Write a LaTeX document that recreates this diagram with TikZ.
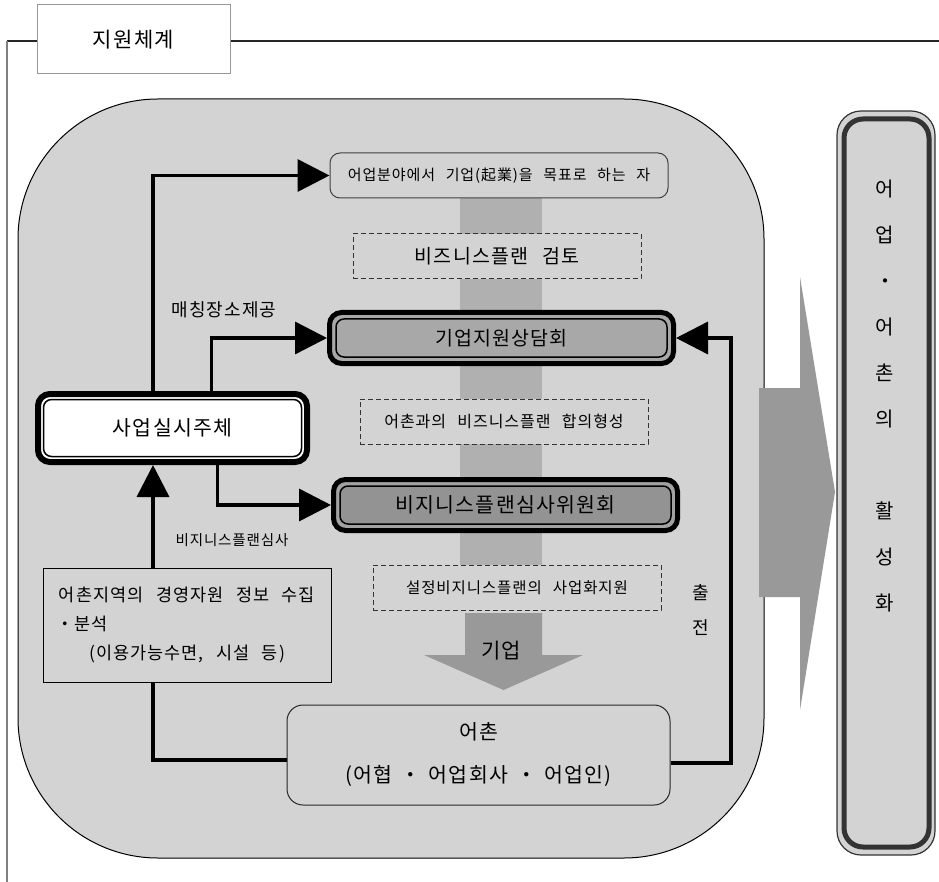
\documentclass[tikz,border=0pt]{standalone}
\usepackage{fontspec}
\setmainfont{Noto Sans CJK KR}[LetterSpace=6,WordSpace=2.5]
\usetikzlibrary{arrows.meta}
\definecolor{bg}{HTML}{D3D3D3}
\definecolor{band}{HTML}{B0B0B0}
\definecolor{arr}{HTML}{999999}
\definecolor{consfill}{HTML}{A8A8A8}
\definecolor{revring}{HTML}{A2A2A2}
\definecolor{revfill}{HTML}{939393}
\begin{document}
\begin{tikzpicture}[x=1pt,y=-1pt,
  conn/.style={line width=3.5pt, -{Triangle[length=32pt,width=32pt]}},
  tbox/.style={draw=black!75, line width=1pt, fill=bg, rounded corners=10pt,
    minimum width=338pt, minimum height=45pt, inner sep=0pt, font=\fontsize{15}{18}\selectfont},
  dbox/.style={draw=black!80, dash pattern=on 5pt off 3pt, line width=1pt, fill=bg,
    minimum width=288pt, minimum height=45pt, inner sep=0pt},
  heavybox/.style={draw=black, line width=5pt, rounded corners=12pt,
    minimum width=344pt, minimum height=51pt, inner sep=0pt},
  lbl/.style={inner sep=0pt},
]
\useasboundingbox (0,0) rectangle (939,882);

% frame and title
\node[draw=black!40, line width=1pt, fill=white, minimum width=193pt, minimum height=69pt,
  inner sep=0pt, font=\fontsize{21}{25}\selectfont] (title) at (133.5,39.5) {지원체계};
\coordinate (fcorner) at (7,41);
\coordinate (fbottom) at (7,882);
\coordinate (fright) at (939,41);
\draw[black!85, line width=1.5pt] (title.west |- fcorner) -- (fcorner);
\draw[black!85, line width=1.5pt] (title.east |- fright) -- (fright);
\draw[black!50, line width=2pt] (fcorner) -- (fbottom);

% big gray panel
\draw[fill=bg, line width=1pt, rounded corners=140pt] (18,99) rectangle (764,858);

% vertical band
\fill[band] (460,198) rectangle (542,566);

% big right arrow
\fill[arr] (759,388) -- (800,388) -- (800,277) -- (835,492) -- (800,710) -- (800,597) -- (759,597) -- cycle;

% right goal box
\node[draw=black!80, line width=1.2pt, fill=bg, rounded corners=24pt,
  minimum width=98pt, minimum height=744pt, inner sep=0pt,
  path picture={\draw[line width=5pt, rounded corners=19pt]
    ([shift={(7pt,-8pt)}]path picture bounding box.north west) rectangle
    ([shift={(-6pt,8pt)}]path picture bounding box.south east);}] (goal) at (886,483) {};
\node[lbl, align=center, font=\fontsize{20}{46}\selectfont] (goaltxt) at (885,396)
  {어\\업\\・\\어\\촌\\의\\[46pt]활\\성\\화};

% central column
\node[tbox] (top) at (499,175.5) {어업분야에서 기업(起業)을 목표로 하는 자};
\node[dbox, font=\fontsize{19.5}{24}\selectfont] (d1) at (497,256.5) {비즈니스플랜 검토};
\node[heavybox, fill=consfill, font=\fontsize{19.5}{24}\selectfont,
  path picture={\draw[line width=1.5pt, rounded corners=8pt]
    ([shift={(6.5pt,-6.5pt)}]path picture bounding box.north west) rectangle
    ([shift={(-6.5pt,6.5pt)}]path picture bounding box.south east);}] (cons) at (501.5,338) {기업지원상담회};
\node[dbox, font=\fontsize{16}{20}\selectfont] (d2) at (504,421.5) {어촌과의 비즈니스플랜 합의형성};
\node[heavybox, fill=revring, font=\fontsize{20.5}{24}\selectfont,
  path picture={\draw[line width=1.5pt, rounded corners=8pt, fill=revfill]
    ([shift={(6.5pt,-6.5pt)}]path picture bounding box.north west) rectangle
    ([shift={(-6.5pt,6.5pt)}]path picture bounding box.south east);}] (rev) at (505.5,505) {비지니스플랜심사위원회};
\node[dbox, font=\fontsize{15.5}{19}\selectfont] (d3) at (517,587.5) {설정비지니스플랜의 사업화지원};

% down arrow 기업
\fill[arr] (465,613) -- (542,613) -- (542,655) -- (583,655) -- (503.5,690) -- (424,655) -- (465,655) -- cycle;
\node[lbl, font=\fontsize{21}{25}\selectfont] (kiup) at (501,651) {기업};

% village
\node[draw=black!85, line width=1pt, fill=bg, rounded corners=16pt,
  minimum width=383pt, minimum height=100pt, inner sep=0pt, align=center,
  font=\fontsize{20.5}{43}\selectfont] (village) at (478.5,755)
  {어촌\\(어협\hspace{8pt}・\hspace{8pt}어업회사\hspace{8pt}・\hspace{8pt}어업인)};

% left boxes
\node[draw=black, line width=6pt, fill=white, rounded corners=12pt,
  minimum width=269pt, minimum height=68pt, inner sep=0pt, font=\fontsize{20.5}{24}\selectfont,
  path picture={\draw[line width=1.5pt, rounded corners=8pt]
    ([shift={(5.5pt,-5.5pt)}]path picture bounding box.north west) rectangle
    ([shift={(-5.5pt,5.5pt)}]path picture bounding box.south east);}] (sj) at (172.5,428) {사업실시주체};
\node[draw=black, line width=1pt, fill=bg, minimum width=288pt, minimum height=114pt,
  inner sep=0pt, align=center, font=\fontsize{17.5}{29}\selectfont] (info) at (187,625)
  {어촌지역의 경영자원 정보 수집\\\makebox[262pt][l]{・분석}\\(이용가능수면, 시설 등)};

% connectors
\draw[conn] ([xshift=-19.5pt]sj.north) |- (top.west);
\draw[conn] ([xshift=39pt]sj.north) |- (cons.west);
\draw[conn] ([xshift=45pt]sj.south) |- (rev.west);
\draw[conn] ([xshift=-34pt]info.north) -- ([xshift=-19.5pt]sj.south);
\draw[line width=3.5pt] ([yshift=-5pt]village.west) -| ([xshift=-34pt]info.south);
\draw[conn] ([yshift=-8pt]village.east) -| ([xshift=55pt]cons.east) -- (cons.east);

% labels
\node[lbl, font=\fontsize{18}{21}\selectfont] (lmatch) at (224,310) {매칭장소제공};
\node[lbl, font=\fontsize{14.5}{17}\selectfont] (lreview) at (232,540) {비지니스플랜심사};
\node[lbl, align=center, font=\fontsize{18}{35}\selectfont] (lgo) at (701,610) {출\\전};
\end{tikzpicture}
\end{document}
